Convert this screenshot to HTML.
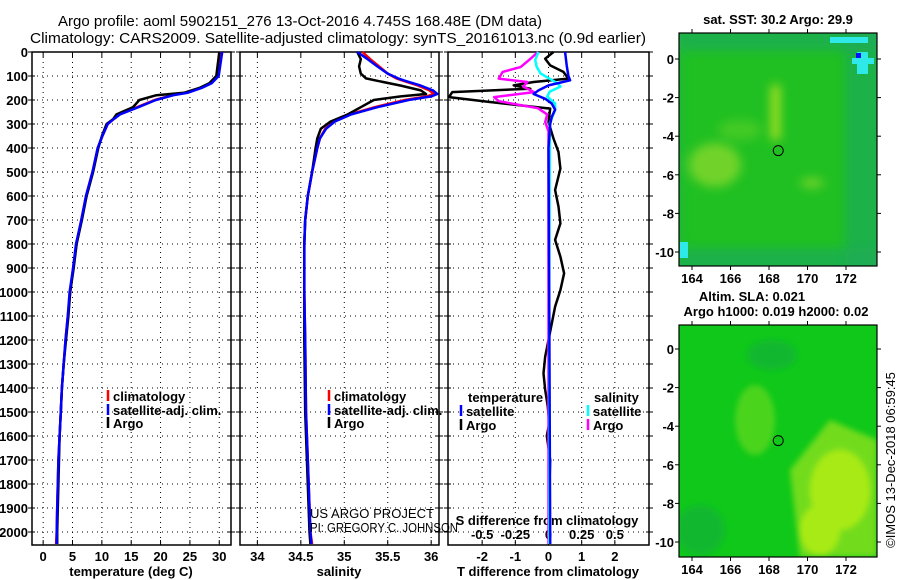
<!DOCTYPE html>
<html><head><meta charset="utf-8"><style>
html,body{margin:0;padding:0;background:#fff;}
svg{display:block;font-family:"Liberation Sans",sans-serif;}
.t{font-size:13px;font-weight:bold;fill:#000;}
.ti{font-size:15px;fill:#000;}
.n{font-size:13px;font-weight:normal;fill:#000;}
</style></head><body>
<svg id="chart" width="900" height="580" viewBox="0 0 900 580" xmlns="http://www.w3.org/2000/svg">
<defs><filter id="blur" x="-10%" y="-10%" width="120%" height="120%"><feGaussianBlur stdDeviation="5"/></filter>
<filter id="blur2" x="-10%" y="-10%" width="120%" height="120%"><feGaussianBlur stdDeviation="3"/></filter></defs>
<rect width="900" height="580" fill="#fff"/>
<text class="ti" x="58" y="26" textLength="484" lengthAdjust="spacingAndGlyphs">Argo profile: aoml 5902151_276 13-Oct-2016 4.745S 168.48E (DM data)</text>
<text class="ti" x="30" y="43" textLength="616" lengthAdjust="spacingAndGlyphs">Climatology: CARS2009. Satellite-adjusted climatology: synTS_20161013.nc (0.9d earlier)</text>
<g id="g"></g>
<text x="310" y="518" font-size="13" fill="#000" textLength="124" lengthAdjust="spacingAndGlyphs">US ARGO PROJECT</text>
<text x="310" y="532" font-size="13" fill="#000" textLength="148" lengthAdjust="spacingAndGlyphs">PI: GREGORY C. JOHNSON</text>
<text class="n" transform="translate(895,460) rotate(-90)" text-anchor="middle">©IMOS 13-Dec-2018 06:59:45</text>
</svg>
<script>
// ---- data ----
const depthTicks=[0,100,200,300,400,500,600,700,800,900,1000,1100,1200,1300,1400,1500,1600,1700,1800,1900,2000];
const tempTicks=[0,5,10,15,20,25,30];
const salTicks=[34,34.5,35,35.5,36];
const tdiffTicks=[-2,-1,0,1,2];
const sdiffTicks=[-0.5,-0.25,0,0.25,0.5];
const sdiffLabels=["-0.5","-0.25","0","0.25","0.5"];
const lonTicks=[164,166,168,170,172];
const latTicks=[0,-2,-4,-6,-8,-10];
const argoLon=168.48, argoLat=-4.745;

const tempDepth=[0,100,130,150,170,180,200,230,260,280,300,350,400,500,600,700,800,900,1000,1100,1200,1300,1400,1500,1600,1700,1800,1900,2000,2050];
const tempArgo=[30,29.5,28.3,26.6,24,19.3,16.4,15.3,12.5,11.9,10.8,10,9.4,8.5,7.4,6.6,5.7,5.2,4.6,4.3,3.9,3.5,3.2,3,2.8,2.7,2.6,2.5,2.4,2.4];
const tempClim=[30.2,29.7,28.5,26.8,24.4,22,19,16,13,12,11,10.1,9.3,8.4,7.3,6.5,5.7,5.1,4.6,4.2,3.8,3.5,3.2,3,2.8,2.6,2.5,2.4,2.3,2.2];
const tempSat=[30.5,29.9,28.7,27,24.6,22.2,19.2,16.2,13.1,12,11,10.1,9.3,8.4,7.3,6.5,5.6,5.1,4.5,4.2,3.8,3.5,3.2,3,2.8,2.6,2.5,2.4,2.3,2.3];

const salDepth=[0,30,60,90,110,120,140,160,175,185,200,230,260,290,320,360,400,500,600,700,800,1000,1200,1500,1700,2000,2050];
const salArgo=[35.15,35.19,35.17,35.19,35.25,35.38,35.65,35.88,35.94,35.65,35.34,35.19,35.04,34.84,34.73,34.69,34.67,34.63,34.58,34.55,34.54,34.54,34.54,34.55,34.57,34.6,34.61];
const salClim=[35.21,35.3,35.4,35.5,35.6,35.68,35.85,35.98,36.03,35.95,35.7,35.35,35.06,34.88,34.78,34.72,34.69,34.63,34.58,34.55,34.54,34.54,34.55,34.56,34.58,34.61,34.63];
const salSat=[35.15,35.27,35.38,35.5,35.62,35.7,35.88,36.02,36.07,36.0,35.74,35.38,35.08,34.89,34.79,34.72,34.69,34.63,34.58,34.55,34.54,34.54,34.55,34.56,34.58,34.61,34.62];

const tdArgoDepth=[0,28,56,83,111,125,139,153,167,188,208,236,292,361,417,486,575,644,714,783,853,922,992,1061,1131,1200,1269,1339,1408,1478,1547,1600,1700,1800,2000,2050];
const tdArgo=[0.15,-0.1,0.05,0.45,0.6,-0.45,-1.05,-0.55,-2.9,-3,-1.8,0.05,0,0.15,0.3,0.36,0.2,0.3,0.36,0.2,0.36,0.47,0.36,0.2,0.1,0,-0.1,-0.15,-0.1,-0.02,0.02,-0.05,0.05,0.03,0.02,0.02];
const tdSatDepth=[0,56,100,118,139,160,175,195,215,240,270,300,400,1000,2050];
const tdSat=[0.5,0.55,0.6,0.65,0.0,-0.3,-0.45,-0.1,0.1,0.2,0.1,0.05,0,0.02,0.05];
const sdDepth=[0,28,63,83,111,125,144,167,188,205,234,260,292,330,400,1000,1500,2050];
const sdArgo=[-0.08,-0.135,-0.21,-0.345,-0.375,-0.16,-0.19,-0.11,-0.41,-0.375,-0.08,-0.01,-0.025,0,0,0,0,0];
const sdSatDepth=[0,33,61,89,131,144,165,186,214,242,297,367,1000,2050];
const sdSat=[-0.075,-0.1,-0.09,-0.06,0.07,0.09,0.01,-0.01,0.05,0.05,0.01,0.01,0.005,0.005];

// ---- helpers ----
const NS="http://www.w3.org/2000/svg";
const G=document.getElementById('g');
function mk(tag,attrs,parent){const e=document.createElementNS(NS,tag);for(const k in attrs)e.setAttribute(k,attrs[k]);(parent||G).appendChild(e);return e;}
const TOP=52,BOT=545;
function yD(d){return TOP+d*0.24;}
const panels=[
 {x0:32,x1:231,vmin:-1.9,vmax:32},
 {x0:240,x1:439,vmin:33.8,vmax:36.09},
 {x0:448,x1:649,vmin:-3.03,vmax:3.03}
];
function xf(p){return v=>p.x0+(v-p.vmin)/(p.vmax-p.vmin)*(p.x1-p.x0);}
const xT=xf(panels[0]),xS=xf(panels[1]),xTd=xf(panels[2]);
function xSd(v){return xTd(v*4);}

function line(xs,ds,xfn,color,name,w){
  const pts=xs.map((v,i)=>xfn(v).toFixed(1)+','+yD(ds[i]).toFixed(1)).join(' ');
  const e=mk('polyline',{points:pts,fill:'none',stroke:color,'stroke-width':w||2.5,'stroke-linejoin':'round'});
  
  
}
function txt(s,x,y,anchor,cls,extra){const e=mk('text',Object.assign({x:x,y:y,'text-anchor':anchor||'start',class:cls||'t'},extra||{}));e.textContent=s;return e;}

panels.forEach((p,pi)=>{
  const ticksX = pi==0?tempTicks:pi==1?salTicks:tdiffTicks;
  const xfn=[xT,xS,xTd][pi];
  ticksX.forEach(v=>{
    const x=xfn(v);
    const gl=mk('line',{x1:x,x2:x,y1:TOP,y2:BOT,stroke:'#000','stroke-width':1,'stroke-dasharray':'1,4'});
    
    
    mk('line',{x1:x,x2:x,y1:TOP,y2:TOP+5,stroke:'#000'});
    mk('line',{x1:x,x2:x,y1:BOT,y2:BOT-5,stroke:'#000'});
    const l=txt(String(v),x,561,'middle');
    
    
  });
  depthTicks.forEach(d=>{
    const y=yD(d);
    const gl=mk('line',{x1:p.x0,x2:p.x1,y1:y,y2:y,stroke:'#000','stroke-width':1,'stroke-dasharray':'1,4'});
    
    
    mk('line',{x1:p.x0-4,x2:p.x0+3,y1:y,y2:y,stroke:'#000'});
    mk('line',{x1:p.x1-3,x2:p.x1+4,y1:y,y2:y,stroke:'#000'});
  });
  const fr=mk('rect',{x:p.x0,y:TOP,width:p.x1-p.x0,height:BOT-TOP,fill:'none',stroke:'#000','stroke-width':1.5});
  
  
});
depthTicks.forEach(d=>{
  const l=txt(String(d),28,yD(d)+5,'end');
  
  
});
sdiffTicks.forEach((v,i)=>{
  const l=txt(sdiffLabels[i],xSd(v),539,'middle');
  
  
});
[['temperature (deg C)',131,'temperature-axis-title'],['salinity',339,'salinity-axis-title'],['T difference from climatology',548,'t-diff-axis-title']].forEach(a=>{
  const l=txt(a[0],a[1],576,'middle');
  
  
});
const st=txt('S difference from climatology',547,525,'middle');



line(tempClim,tempDepth,xT,'#f00','temp-climatology-line');
line(tempArgo,tempDepth,xT,'#000','temp-argo-line');
line(tempSat,tempDepth,xT,'#00f','temp-satellite-line');
line(salClim,salDepth,xS,'#f00','sal-climatology-line');
line(salArgo,salDepth,xS,'#000','sal-argo-line');
line(salSat,salDepth,xS,'#00f','sal-satellite-line');
line(tdArgo,tdArgoDepth,xTd,'#000','tdiff-argo-line');
line(sdArgo,sdDepth,xSd,'#f0f','sdiff-argo-line');
line(sdSat,sdSatDepth,xSd,'#0ff','sdiff-satellite-line');
line(tdSat,tdSatDepth,xTd,'#00f','tdiff-satellite-line');

function legItem(x,y,color,label,name){
  mk('line',{x1:x,x2:x,y1:y-11,y2:y,stroke:color,'stroke-width':2.5});
  const l=txt(label,x+5,y);
  
  
}
legItem(108,401,'#f00','climatology','legend-climatology');
legItem(108,415,'#00f','satellite-adj. clim.','legend-satellite');
legItem(108,428,'#000','Argo','legend-argo');
legItem(329,401,'#f00','climatology','legend-climatology');
legItem(329,415,'#00f','satellite-adj. clim.','legend-satellite');
legItem(329,428,'#000','Argo','legend-argo');
let l1=txt('temperature',468,402);
let l2=txt('salinity',594,402);
legItem(461,416,'#00f','satellite','legend-t-satellite');
legItem(461,430,'#000','Argo','legend-t-argo');
legItem(588,416,'#0ff','satellite','legend-s-satellite');
legItem(588,430,'#f0f','Argo','legend-s-argo');

function map(top,bot,lat0y,isSST){
  const x0=679,x1=877;
  const lx=v=>692+(v-164)*19.25, ly=v=>lat0y-v*19.3;
  const grp=mk('g',{});
  
  
  const cid='c'+top;
  const cp=mk('clipPath',{id:cid},grp);mk('rect',{x:x0,y:top,width:x1-x0,height:bot-top},cp);
  const inner=mk('g',{'clip-path':'url(#'+cid+')'},grp);
  if(isSST){
    mk('rect',{x:x0,y:top,width:x1-x0,height:bot-top,fill:'#20c022'},inner);
    const b=mk('g',{filter:'url(#blur)'},inner);
    mk('rect',{x:x0-10,y:top-10,width:220,height:28,fill:'#1cac55',opacity:0.75},b);
    mk('rect',{x:845,y:top-10,width:45,height:250,fill:'#1cac55',opacity:0.75},b);
    mk('rect',{x:x0-10,y:bot-18,width:220,height:30,fill:'#1cac55',opacity:0.75},b);
    mk('rect',{x:x0-10,y:top,width:14,height:250,fill:'#1cb545',opacity:0.6},b);
    mk('ellipse',{cx:715,cy:165,rx:26,ry:22,fill:'#86d82a',opacity:0.8},b);
    mk('ellipse',{cx:740,cy:130,rx:22,ry:10,fill:'#5cd028',opacity:0.6},b);
    mk('ellipse',{cx:812,cy:183,rx:12,ry:5,fill:'#86d82a',opacity:0.8},b);
    mk('rect',{x:771,y:85,width:9,height:55,fill:'#a6e020'},b);
    mk('rect',{x:830,y:37,width:38,height:6,fill:'#2fe8e8'},inner);
    mk('rect',{x:857,y:52,width:11,height:22,fill:'#2fe8e8'},inner);
    mk('rect',{x:852,y:58,width:22,height:6,fill:'#2fe8e8'},inner);
    mk('rect',{x:856,y:53,width:5,height:5,fill:'#0010ff'},inner);
    mk('rect',{x:680,y:242,width:8,height:16,fill:'#2fe8e8'},inner);
  } else {
    mk('rect',{x:x0,y:top,width:x1-x0,height:bot-top,fill:'#0fc81a'},inner);
    const b=mk('g',{filter:'url(#blur2)'},inner);
    mk('ellipse',{cx:772,cy:355,rx:25,ry:15,fill:'#10ad3a',opacity:0.6},b);
    mk('ellipse',{cx:700,cy:530,rx:25,ry:25,fill:'#10ad3a',opacity:0.6},b);
    mk('ellipse',{cx:755,cy:420,rx:20,ry:35,fill:'#4cd41e'},b);
    mk('path',{d:'M790,470 L830,420 L877,440 L877,557 L800,557 Z',fill:'#72dc1e'},b);
    mk('ellipse',{cx:840,cy:490,rx:30,ry:40,fill:'#a8ea18'},b);
    mk('ellipse',{cx:820,cy:530,rx:20,ry:25,fill:'#a8ea18'},b);
  }
  mk('rect',{x:x0,y:top,width:x1-x0,height:bot-top,fill:'none',stroke:'#000','stroke-width':1.2},grp);
  lonTicks.forEach(v=>{
    mk('line',{x1:lx(v),x2:lx(v),y1:top,y2:top-4,stroke:'#000'});
    mk('line',{x1:lx(v),x2:lx(v),y1:bot,y2:bot+4,stroke:'#000'});
    const l=txt(String(v),lx(v),bot+17,'middle');
    
    
  });
  latTicks.forEach(v=>{
    mk('line',{x1:x0,x2:x0-4,y1:ly(v),y2:ly(v),stroke:'#000'});
    mk('line',{x1:x1,x2:x1+4,y1:ly(v),y2:ly(v),stroke:'#000'});
    const l=txt(String(v),674,ly(v)+5,'end');
    
    
  });
  const c=mk('circle',{cx:lx(argoLon),cy:ly(argoLat),r:5,fill:'none',stroke:'#000','stroke-width':1});
  
  
}
map(33,266,59,true);
map(325,557,349,false);
let m1=txt('sat. SST: 30.2 Argo: 29.9',778,24,'middle');
let m2=txt('Altim. SLA: 0.021',752,301,'middle');
let m3=txt('Argo h1000: 0.019 h2000: 0.02',776,316,'middle');
</script>
</body></html>
